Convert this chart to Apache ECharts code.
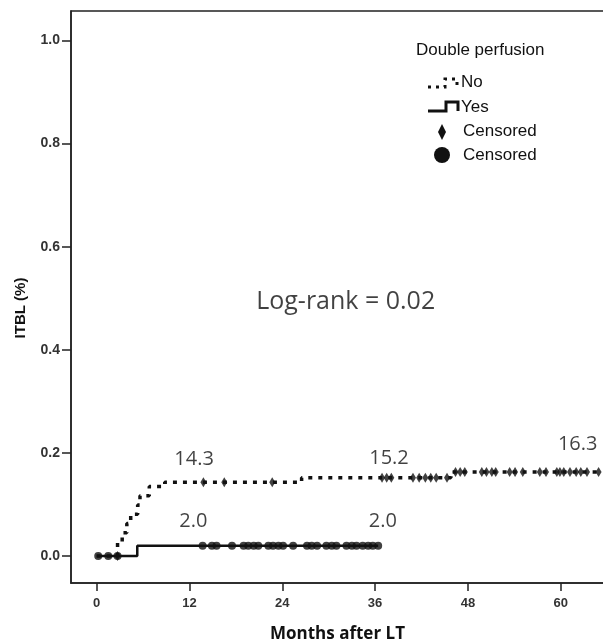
<!DOCTYPE html>
<html>
<head>
<meta charset="utf-8">
<script src="https://cdn.jsdelivr.net/npm/echarts@6/dist/echarts.min.js"></script>
<style>html,body{margin:0;padding:0;background:#fff}#c{width:603px;height:643px}</style>
</head>
<body>
<div id="c"></div>
<script>
// ---- data ----
var xTicks = [0, 12, 24, 36, 48, 60];
var yTicks = [0, 0.2, 0.4, 0.6, 0.8, 1.0];

// "No" group (dotted) Kaplan-Meier cumulative incidence
var noTimes  = [0, 2.7, 3.3, 3.9, 4.4, 5.3, 5.6, 6.8, 8.8, 26.5, 45.8, 64.9];
var noValues = [0, 0.027, 0.045, 0.063, 0.081, 0.099, 0.117, 0.135, 0.143, 0.152, 0.163, 0.163];
// "No" censored (diamonds)
var noCensTimes  = [2.7, 13.8, 16.5, 22.7, 36.9, 37.5, 38.1, 40.9, 41.7, 42.5, 43.2, 43.9, 45.3,
                    46.4, 47.0, 47.6, 49.8, 50.4, 51.1, 51.6, 53.4, 54.1, 55.1, 57.3, 58.1,
                    59.5, 59.9, 60.4, 61.2, 62.0, 62.6, 63.4, 64.9];
var noCensValues = [0, 0.143, 0.143, 0.143, 0.152, 0.152, 0.152, 0.152, 0.152, 0.152, 0.152, 0.152, 0.152,
                    0.163, 0.163, 0.163, 0.163, 0.163, 0.163, 0.163, 0.163, 0.163, 0.163, 0.163, 0.163,
                    0.163, 0.163, 0.163, 0.163, 0.163, 0.163, 0.163, 0.163];

// "Yes" group (solid)
var yesTimes  = [0, 5.25, 36.4];
var yesValues = [0, 0.02, 0.02];
// "Yes" censored (circles)
var yesCensTimes  = [0.2, 1.5, 2.7, 13.7, 14.9, 15.5, 17.5, 19.0, 19.6, 20.3, 20.9, 22.2, 22.8, 23.5,
                     24.1, 25.4, 27.2, 27.8, 28.5, 29.7, 30.4, 31.0, 32.3, 33.0, 33.6, 34.4, 35.1, 35.7, 36.4];
var yesCensValues = [0, 0, 0, 0.02, 0.02, 0.02, 0.02, 0.02, 0.02, 0.02, 0.02, 0.02, 0.02, 0.02,
                     0.02, 0.02, 0.02, 0.02, 0.02, 0.02, 0.02, 0.02, 0.02, 0.02, 0.02, 0.02, 0.02, 0.02, 0.02];

// annotations
var annoTimes  = [12.6, 12.5, 37.8, 37.0, 62.2];
var annoValues = [0.188, 0.068, 0.190, 0.068, 0.217];
var annoTexts  = ['14.3', '2.0', '15.2', '2.0', '16.3'];
var logRankText = 'Log-rank = 0.02';
var logRankPos = [32.2, 0.492];

function pairs(xs, ys) { return xs.map(function (x, i) { return [x, ys[i]]; }); }

var chart = echarts.init(document.getElementById('c'), null, { renderer: 'canvas' });

var annoData = annoTimes.map(function (t, i) { return { value: [t, annoValues[i]], name: annoTexts[i] }; });

var option = {
  animation: false,
  backgroundColor: '#fff',
  grid: { left: 71, right: -1, top: 11, bottom: 60, outerBoundsMode: 'none', containLabel: false,
    show: true, borderColor: '#222', borderWidth: 1.5, backgroundColor: 'transparent' },
  xAxis: {
    type: 'value', min: -3.32, max: 65.6,
    name: 'Months after LT', nameLocation: 'middle', nameGap: 43,
    nameTextStyle: { fontFamily: 'Open Sans', fontWeight: 'bold', fontSize: 17, color: '#111' },
    splitLine: { show: false },
    axisLine: { show: true, onZero: false, lineStyle: { color: '#222', width: 1.5 } },
    axisTick: { show: true, length: 8, customValues: xTicks, lineStyle: { color: '#222', width: 1.5 } },
    axisLabel: { customValues: xTicks, margin: 14, fontFamily: 'Liberation Sans', fontWeight: 'bold', fontSize: 13, color: '#333' }
  },
  yAxis: {
    type: 'value', min: -0.0523, max: 1.057,
    name: 'ITBL (%)', nameLocation: 'middle', nameGap: 43, nameRotate: 90,
    nameTextStyle: { fontFamily: 'Liberation Sans', fontWeight: 'bold', fontSize: 15, color: '#111', padding: [0, 22, 0, 0] },
    splitLine: { show: false },
    axisLine: { show: true, onZero: false, lineStyle: { color: '#222', width: 1.5 } },
    axisTick: { show: true, length: 9, customValues: yTicks, lineStyle: { color: '#222', width: 1.5 } },
    axisLabel: { customValues: yTicks, margin: 11, fontFamily: 'Liberation Sans', fontWeight: 'bold', fontSize: 14, color: '#333',
      formatter: function (v) { return v.toFixed(1); } }
  },
  series: [
    {
      name: 'No', type: 'line', step: 'end', data: pairs(noTimes, noValues),
      showSymbol: false, symbol: 'none',
      lineStyle: { color: '#111', width: 3.5, type: [4, 6], cap: 'butt' }, z: 2
    },
    {
      name: 'Yes', type: 'line', step: 'end', data: pairs(yesTimes, yesValues),
      showSymbol: false, symbol: 'none',
      lineStyle: { color: '#111', width: 2.5 }, z: 2
    },
    {
      name: 'No censored', type: 'scatter', data: pairs(noCensTimes, noCensValues),
      symbol: 'diamond', symbolSize: [6, 10], itemStyle: { color: '#111' }, z: 3
    },
    {
      name: 'Yes censored', type: 'scatter', data: pairs(yesCensTimes, yesCensValues),
      symbol: 'circle', symbolSize: 8, itemStyle: { color: '#111' }, z: 3
    },
    {
      name: 'annotations', type: 'scatter', data: annoData, symbolSize: 0, silent: true,
      label: { show: true, position: 'inside', formatter: '{b}', fontFamily: 'Open Sans', fontSize: 20, color: '#111' }
    },
    {
      name: 'logrank', type: 'scatter', data: [{ value: logRankPos, name: logRankText }], symbolSize: 0, silent: true,
      label: { show: true, position: 'inside', formatter: '{b}', fontFamily: 'Open Sans', fontSize: 25, color: '#111' }
    }
  ],
  graphic: [
    { type: 'text', left: 416, top: 42, style: { text: 'Double perfusion', font: '17px "Liberation Sans"', fill: '#111' } },
    { type: 'polyline', shape: { points: [[428, 87], [445, 87], [445, 79], [457, 79], [457, 87]] },
      style: { stroke: '#111', lineWidth: 3, lineDash: [3, 5], fill: null } },
    { type: 'text', left: 461, top: 74, style: { text: 'No', font: '17px "Liberation Sans"', fill: '#111' } },
    { type: 'polyline', shape: { points: [[428, 111], [446, 111], [446, 102], [458, 102], [458, 111]] },
      style: { stroke: '#111', lineWidth: 3, fill: null } },
    { type: 'text', left: 461, top: 99, style: { text: 'Yes', font: '17px "Liberation Sans"', fill: '#111' } },
    { type: 'polygon', shape: { points: [[442, 124], [446, 132], [442, 140], [438, 132]] }, style: { fill: '#111' } },
    { type: 'text', left: 463, top: 123, style: { text: 'Censored', font: '17px "Liberation Sans"', fill: '#111' } },
    { type: 'circle', shape: { cx: 442, cy: 155, r: 8 }, style: { fill: '#111' } },
    { type: 'text', left: 463, top: 147, style: { text: 'Censored', font: '17px "Liberation Sans"', fill: '#111' } }
  ]
};
chart.setOption(option);
</script>
</body>
</html>
